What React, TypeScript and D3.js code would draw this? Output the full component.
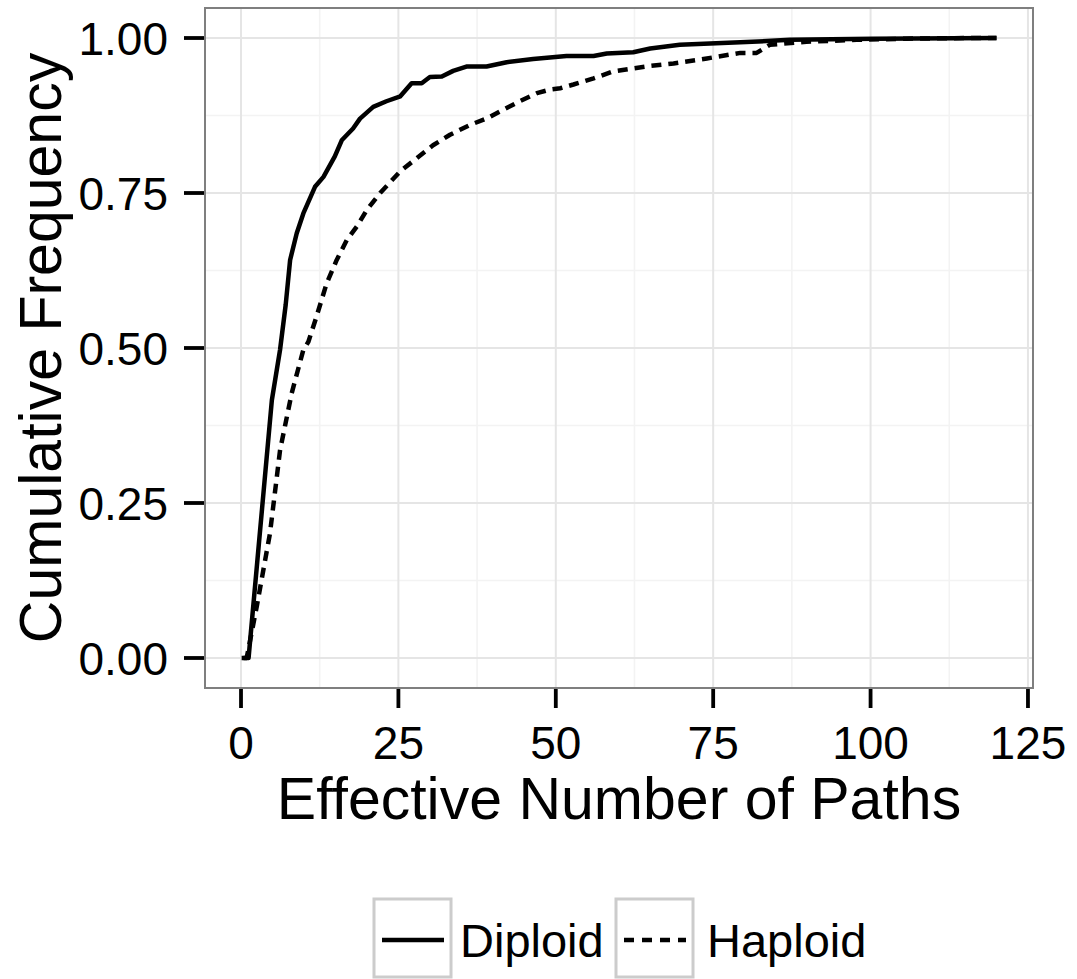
import React from "react";
import * as d3 from "d3";

const diploidX = [0.1, 1.2, 4.9, 6.2, 7.1, 7.8, 8.85, 9.9, 11.75, 13.1, 14.9, 16.0, 17.8, 18.9, 21.0, 23.1, 25.3, 27.1, 28.7, 30.0, 31.9, 33.7, 35.8, 39.0, 42.2, 46.4, 51.7, 56.0, 58.1, 62.3, 65.0, 69.7, 79.3, 87.2, 100.4, 120];
const diploidY = [0, 0, 0.416, 0.497, 0.57, 0.642, 0.685, 0.717, 0.76, 0.776, 0.809, 0.835, 0.854, 0.87, 0.889, 0.898, 0.906, 0.927, 0.927, 0.937, 0.938, 0.947, 0.954, 0.954, 0.961, 0.966, 0.971, 0.971, 0.975, 0.977, 0.983, 0.989, 0.993, 0.997, 0.999, 1.0];

const haploidX = [0.4, 0.9, 2.5, 4.6, 6.2, 8.05, 9.9, 10.7, 12.0, 13.6, 15.2, 16.8, 18.4, 20.0, 22.1, 25.3, 27.9, 30.5, 33.2, 36.4, 39.0, 41.6, 44.3, 47.0, 49.1, 50.7, 52.8, 56.0, 59.1, 62.3, 65.0, 68.7, 74.0, 79.3, 81.9, 84.0, 89.8, 97.8, 105.7, 116, 120];
const haploidY = [0, 0, 0.083, 0.201, 0.335, 0.427, 0.497, 0.51, 0.551, 0.604, 0.642, 0.674, 0.696, 0.723, 0.75, 0.785, 0.806, 0.827, 0.844, 0.86, 0.87, 0.884, 0.898, 0.911, 0.917, 0.919, 0.925, 0.935, 0.946, 0.951, 0.955, 0.959, 0.967, 0.976, 0.976, 0.989, 0.994, 0.997, 0.999, 1.0, 1.0];

const xTicks = [0, 25, 50, 75, 100, 125];
const yTicks = [0, 0.25, 0.5, 0.75, 1.0];
const seriesNames = ["Diploid", "Haploid"];

const W = 1077;
const H = 979;
const panel = { left: 205, right: 1033, top: 8, bottom: 688 };
const FONT = "'Liberation Sans', Arial, Helvetica, sans-serif";
const LW = 4.5;

export default function App() {
  const x = d3.scaleLinear().domain([-5.72, 125.8]).range([panel.left, panel.right]);
  const y = d3.scaleLinear().domain([-0.0484, 1.0484]).range([panel.bottom, panel.top]);

  const line = d3
    .line<[number, number]>()
    .x((d) => x(d[0]))
    .y((d) => y(d[1]));

  const dip: [number, number][] = diploidX.map((v, i) => [v, diploidY[i]]);
  const hap: [number, number][] = haploidX.map((v, i) => [v, haploidY[i]]);

  const xMinor = xTicks.slice(0, -1).map((v, i) => (v + xTicks[i + 1]) / 2);
  const yMinor = yTicks.slice(0, -1).map((v, i) => (v + yTicks[i + 1]) / 2);
  const fmtY = d3.format(".2f");

  const legendBoxes = [
    { x: 374, textX: 460, dash: undefined as string | undefined },
    { x: 616, textX: 707, dash: "10 8" },
  ];

  return (
    <div style={{ position: "absolute", left: 0, top: 0 }}>
      <svg width={W} height={H} style={{ display: "block", background: "#fff" }}>
        <rect x={0} y={0} width={W} height={H} fill="#fff" />
        <rect x={panel.left} y={panel.top} width={panel.right - panel.left} height={panel.bottom - panel.top} fill="#fff" />
        {xMinor.map((v) => (
          <line key={"xm" + v} x1={x(v)} x2={x(v)} y1={panel.top} y2={panel.bottom} stroke="#f3f3f3" strokeWidth={1.6} />
        ))}
        {yMinor.map((v) => (
          <line key={"ym" + v} x1={panel.left} x2={panel.right} y1={y(v)} y2={y(v)} stroke="#f3f3f3" strokeWidth={1.6} />
        ))}
        {xTicks.map((v) => (
          <line key={"xg" + v} x1={x(v)} x2={x(v)} y1={panel.top} y2={panel.bottom} stroke="#e5e5e5" strokeWidth={2} />
        ))}
        {yTicks.map((v) => (
          <line key={"yg" + v} x1={panel.left} x2={panel.right} y1={y(v)} y2={y(v)} stroke="#e5e5e5" strokeWidth={2} />
        ))}
        <path d={line(hap) || ""} fill="none" stroke="#000" strokeWidth={LW} strokeDasharray="10 7" strokeLinejoin="round" />
        <path d={line(dip) || ""} fill="none" stroke="#000" strokeWidth={LW} strokeLinejoin="round" />
        <rect x={panel.left} y={panel.top} width={panel.right - panel.left} height={panel.bottom - panel.top} fill="none" stroke="#7f7f7f" strokeWidth={2} />
        {xTicks.map((v) => (
          <g key={"xt" + v}>
            <line x1={x(v)} x2={x(v)} y1={panel.bottom + 1} y2={panel.bottom + 20} stroke="#000" strokeWidth={3.8} />
            <text x={x(v)} y={759} textAnchor="middle" fontFamily={FONT} fontSize={46} fill="#000">
              {String(v)}
            </text>
          </g>
        ))}
        {yTicks.map((v) => (
          <g key={"yt" + v}>
            <line x1={panel.left - 21} x2={panel.left - 1} y1={y(v)} y2={y(v)} stroke="#000" strokeWidth={3.8} />
            <text x={168} y={y(v) + 17} textAnchor="end" fontFamily={FONT} fontSize={46} fill="#000">
              {fmtY(v)}
            </text>
          </g>
        ))}
        <text x={(panel.left + panel.right) / 2} y={819} textAnchor="middle" fontFamily={FONT} fontSize={59} fill="#000">
          Effective Number of Paths
        </text>
        <text
          transform={`translate(61, ${(panel.top + panel.bottom) / 2}) rotate(-90)`}
          textAnchor="middle"
          fontFamily={FONT}
          fontSize={59}
          fill="#000"
        >
          Cumulative Frequency
        </text>
        {legendBoxes.map((b, i) => (
          <g key={"lg" + i}>
            <rect x={b.x} y={899} width={77} height={78} fill="#fff" stroke="#cccccc" strokeWidth={3} />
            <line x1={b.x + 8} x2={b.x + 70} y1={940} y2={940} stroke="#000" strokeWidth={LW} strokeDasharray={b.dash} />
            <text x={b.textX} y={957} fontFamily={FONT} fontSize={47} fill="#000">
              {seriesNames[i]}
            </text>
          </g>
        ))}
      </svg>
    </div>
  );
}
